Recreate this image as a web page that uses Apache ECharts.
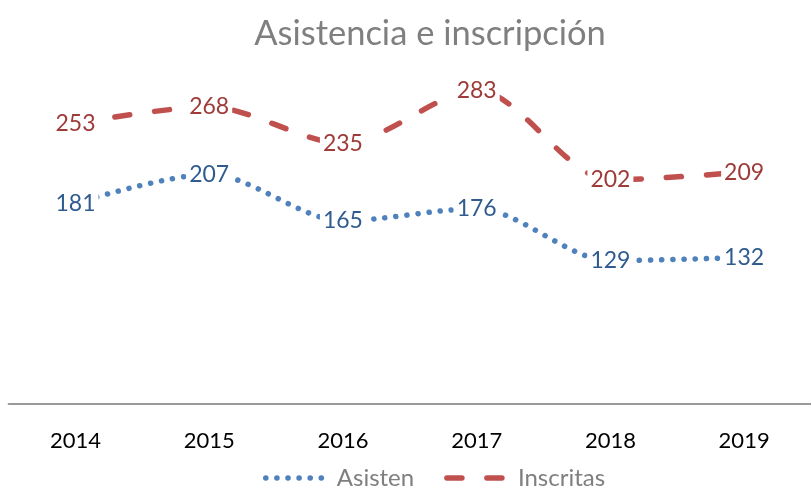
<!DOCTYPE html>
<html>
<head>
<meta charset="utf-8">
<script src="https://cdn.jsdelivr.net/npm/echarts@6/dist/echarts.min.js"></script>
<style>
  html, body { margin: 0; padding: 0; background: #fff; }
  #chart { width: 811px; height: 486px; }
</style>
</head>
<body>
<div id="chart"></div>
<script>
var years = ['2014', '2015', '2016', '2017', '2018', '2019']
var asisten = [181, 207, 165, 176, 129, 132]
var inscritas = [253, 268, 235, 283, 202, 209]

var blue = '#4F81BD'
var red = '#C0504D'
var font = 'Lato'

var myChart = echarts.init(document.getElementById('chart'))
var option = {
  backgroundColor: '#fff',
  animation: false,
  title: {
    text: 'Asistencia e inscripción',
    left: 425,
    textAlign: 'center',
    top: 11,
    textStyle: { color: '#7F7F7F', fontSize: 34.5, fontWeight: 'normal', fontFamily: font }
  },
  legend: {
    top: 461,
    left: 258,
    itemWidth: 62,
    itemHeight: 14,
    itemGap: 30,
    itemStyle: { opacity: 0 },
    lineStyle: { width: 5.5, cap: 'round' },
    textStyle: { color: '#7F7F7F', fontSize: 24, fontFamily: font, padding: [0, 0, 0, 4] },
    data: ['Asisten', 'Inscritas']
  },
  grid: { left: 8.6, right: -6.6, top: 16, bottom: 82.5 },
  xAxis: {
    type: 'category',
    data: years,
    boundaryGap: true,
    axisLine: { lineStyle: { color: '#999', width: 2 } },
    axisTick: { show: false },
    axisLabel: { color: '#000', fontSize: 22, fontFamily: font, margin: 26 }
  },
  yAxis: {
    type: 'value',
    min: 0,
    max: 350,
    show: false,
    splitLine: { show: false }
  },
  series: [
    {
      name: 'Asisten',
      type: 'line',
      data: asisten,
      smooth: 0.3,
      symbol: 'circle',
      symbolSize: 1,
      showSymbol: true,
      lineStyle: { color: blue, width: 5.5, type: [0.1, 11], cap: 'round' },
      itemStyle: { color: 'rgba(255,255,255,0)' },
      label: {
        show: true,
        position: 'inside',
        color: '#2F5B8E',
        fontSize: 23,
        fontFamily: font,
        backgroundColor: '#fff',
        padding: [0, 3]
      }
    },
    {
      name: 'Inscritas',
      type: 'line',
      data: inscritas,
      smooth: 0.3,
      symbol: 'circle',
      symbolSize: 1,
      showSymbol: true,
      lineStyle: { color: red, width: 5.5, type: [15, 25], cap: 'round' },
      itemStyle: { color: 'rgba(255,255,255,0)' },
      label: {
        show: true,
        position: 'inside',
        color: '#9E3A37',
        fontSize: 23,
        fontFamily: font,
        backgroundColor: '#fff',
        padding: [0, 3]
      }
    }
  ]
}
myChart.setOption(option)
</script>
</body>
</html>
